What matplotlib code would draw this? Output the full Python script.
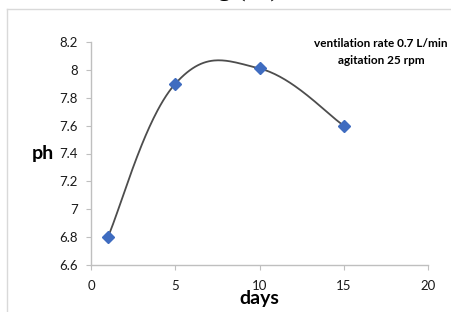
import numpy as np
import matplotlib
matplotlib.use('Agg')
import matplotlib.pyplot as plt
from matplotlib.lines import Line2D

# data
days = [1, 5, 10, 15]
ph = [6.8, 7.9, 8.01, 7.6]
x_ticks = [0, 5, 10, 15, 20]
y_ticks = [6.6, 6.8, 7.0, 7.2, 7.4, 7.6, 7.8, 8.0, 8.2]
y_tick_labels = ['6.6', '6.8', '7', '7.2', '7.4', '7.6', '7.8', '8', '8.2']
note = 'ventilation rate 0.7 L/min\nagitation 25 rpm'

plt.rcParams['font.family'] = ['Lato', 'DejaVu Sans']


def smooth_curve(xs, ys, s=0.2, n=60):
    # Excel-like smoothed line: cubic Bezier through the points
    pts = np.column_stack([xs, ys]).astype(float)
    out = []
    for i in range(len(pts) - 1):
        p0 = pts[i]
        p3 = pts[i + 1]
        prev = pts[i - 1] if i > 0 else pts[i]
        nxt = pts[i + 2] if i + 2 < len(pts) else pts[i + 1]
        c1 = p0 + s * (p3 - prev)
        c2 = p3 - s * (nxt - p0)
        t = np.linspace(0, 1, n)[:, None]
        seg = ((1 - t) ** 3) * p0 + 3 * ((1 - t) ** 2) * t * c1 \
            + 3 * (1 - t) * t ** 2 * c2 + t ** 3 * p3
        out.append(seg)
    curve = np.vstack(out)
    return curve[:, 0], curve[:, 1]


fig = plt.figure(figsize=(4.51, 3.12), dpi=100)
ax = fig.add_axes([91 / 451, 1 - 265 / 312, (428 - 91) / 451, (265 - 42) / 312])

cx, cy = smooth_curve(days, ph, s=0.2)
ax.plot(cx, cy, color='#4d4d4d', linewidth=1.3, zorder=2)
ax.plot(days, ph, linestyle='none', marker='D', markersize=6,
        color='#3f6cc0', markeredgecolor='#3f6cc0', zorder=3)

ax.set_xlim(0, 20)
ax.set_ylim(6.6, 8.2)
ax.set_xticks(x_ticks)
ax.set_yticks(y_ticks)
ax.set_yticklabels(y_tick_labels)

for side in ['top', 'right']:
    ax.spines[side].set_visible(False)
for side in ['left', 'bottom']:
    ax.spines[side].set_color('#bfbfbf')
    ax.spines[side].set_linewidth(1.0)
ax.tick_params(direction='out', length=3.5, color='#bfbfbf', labelsize=9.5,
               labelcolor='#1a1a1a', pad=6)
ax.tick_params(axis='x', pad=7)

ax.set_xlabel('days', fontsize=14, fontweight='bold', labelpad=-1)
ax.set_ylabel('ph', fontsize=14, fontweight='bold', rotation=0, labelpad=12,
              va='center')

ax.text(0.86, 0.955, note, transform=ax.transAxes, ha='center', va='center',
        fontsize=8.5, fontweight='bold', linespacing=1.6)

# outer chart frame and the clipped caption above it
fig.add_artist(Line2D([7 / 451, 1], [1 - 9 / 312, 1 - 9 / 312],
                      transform=fig.transFigure, color='#d9d9d9', linewidth=1))
fig.add_artist(Line2D([7 / 451, 7 / 451], [0, 1 - 9 / 312],
                      transform=fig.transFigure, color='#d9d9d9', linewidth=1))
fig.text(279 / 451, 1 + 4 / 312, 'ventilating (25)', ha='right', va='baseline',
         fontsize=18, family='Liberation Serif', fontweight='bold')

fig.savefig('out.png', dpi=100)
